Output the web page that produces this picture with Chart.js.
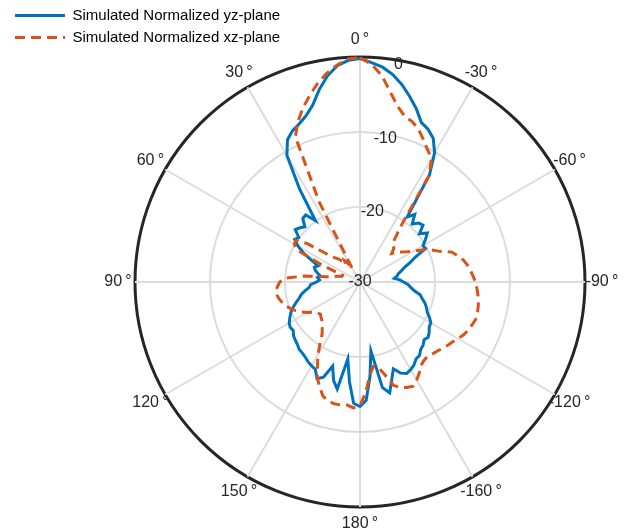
<!DOCTYPE html>
<html>
<head>
<meta charset="utf-8">
<script src="https://cdn.jsdelivr.net/npm/chart.js@4/dist/chart.umd.min.js"></script>
<style>
  html, body { margin: 0; padding: 0; background: #fff; overflow: hidden; }
  #chart { display: block; }
</style>
</head>
<body>
<canvas id="chart" width="632" height="532"></canvas>
<script>
// sample angles (deg) in the order the radial scale walks them: 0, -3, ... 180, ... 3
const angles = Array.from({ length: 120 }, (_, i) => (i <= 60 ? -3 * i : 360 - 3 * i));

// theta tick labels, one every 10 samples (30 deg), same order
const thetaTicks = ['0', '-30', '-60', '-90', '-120', '-160', '180', '150', '120', '90', '60', '30'];
const rTicks = [-30, -20, -10, 0];

// Simulated Normalized yz-plane (dB)
const yzPlane = [
  -0.2, -0.7, -1.2, -2.0, -3.1, -4.4, -5.7, -7.2, -7.7, -8.5,
  -10.1, -13.0, -19.3, -18.4, -19.6, -18.9, -18.7, -19.8, -18.9, -19.6,
  -20.3, -20.2, -22.0, -22.9, -23.8, -24.3, -24.8, -25.0, -25.4, -24.7,
  -24.2, -23.6, -23.2, -22.7, -21.8, -21.4, -20.9, -20.5, -20.2, -19.6,
  -19.1, -19.0, -18.6, -18.3, -18.5, -18.1, -17.9, -17.4, -17.3, -16.8,
  -16.5, -16.3, -16.7, -17.6, -16.3, -14.7, -15.6, -20.7, -17.3, -14.2,
  -13.4, -13.8, -16.6, -19.6, -15.4, -16.4, -18.2, -16.4, -15.9, -16.9,
  -17.1, -17.3, -17.6, -17.8, -17.9, -18.2, -18.4, -18.6, -19.0, -18.9,
  -19.1, -19.5, -19.9, -20.4, -21.0, -21.6, -22.0, -22.6, -23.2, -23.4,
  -24.2, -24.6, -24.3, -24.6, -24.2, -23.8, -23.6, -24.0, -23.0, -21.6,
  -20.5, -19.6, -19.9, -18.9, -19.2, -19.6, -18.6, -18.5, -19.9, -15.2,
  -10.5, -8.7, -7.9, -7.4, -6.7, -5.6, -3.8, -2.2, -1.0, -0.4
];

// Simulated Normalized xz-plane (dB)
const xzPlane = [
  -0.1, -0.9, -2.3, -4.3, -6.0, -7.1, -7.5, -8.2, -9.2, -10.2,
  -10.9, -13.1, -20.5, -22.7, -23.5, -23.6, -24.3, -23.6, -23.2, -22.6,
  -21.8, -20.5, -19.5, -18.6, -17.1, -16.5, -15.9, -15.5, -15.2, -14.9,
  -14.6, -14.4, -14.2, -14.0, -13.9, -13.8, -13.8, -14.0, -14.2, -14.5,
  -14.9, -15.3, -15.6, -15.9, -16.2, -16.4, -16.6, -16.5, -16.2, -15.5,
  -14.9, -14.4, -14.6, -14.9, -15.5, -17.2, -18.4, -18.6, -17.5, -15.3,
  -13.5, -13.2, -13.5, -13.4, -13.4, -13.6, -14.0, -15.0, -16.0, -17.5,
  -18.8, -20.2, -21.4, -22.0, -22.4, -22.8, -23.0, -23.2, -23.0, -22.6,
  -21.9, -21.2, -20.6, -20.1, -19.6, -19.3, -19.0, -18.8, -18.7, -19.0,
  -19.3, -20.0, -22.5, -25.5, -26.5, -27.0, -27.5, -27.5, -24.5, -20.5,
  -19.9, -19.8, -21.3, -23.6, -25.0, -25.5, -26.0, -27.0, -26.5, -27.0,
  -28.0, -18.0, -8.8, -7.0, -5.5, -4.2, -2.9, -1.8, -0.9, -0.2
];

const gridGrey = '#dcdcdc';
const textCol = '#262626';

// angle + radius labels drawn where the radial scale puts them
const polarLabels = {
  id: 'polarLabels',
  afterDraw(chart) {
    const r = chart.scales.r;
    const ctx = chart.ctx;
    ctx.save();
    ctx.font = '16px "Liberation Sans", Arial, sans-serif';
    ctx.fillStyle = textCol;
    ctx.textAlign = 'center';
    ctx.textBaseline = 'middle';
    thetaTicks.forEach((t, k) => {
      const p = r.getPointPosition(k * 10, r.drawingArea + 17);
      ctx.fillText(t + '\u2009°', p.x, p.y);
    });
    const a = -Math.PI / 2 + 10 * Math.PI / 180;
    rTicks.forEach(v => {
      const d = Math.max(0, r.getDistanceFromCenterForValue(v) - 4);
      ctx.fillText(String(v), r.xCenter + Math.cos(a) * d, r.yCenter + Math.sin(a) * d);
    });
    ctx.restore();
  }
};

// legend sits in the top-left corner of the figure, not inside the plot
const legendSpot = {
  id: 'legendSpot',
  afterLayout(chart) {
    chart.legend.left = 8;
    chart.legend.top = 1;
  }
};

new Chart(document.getElementById('chart'), {
  type: 'radar',
  data: {
    labels: angles,
    datasets: [
      {
        label: 'Simulated Normalized yz-plane',
        data: yzPlane,
        borderColor: '#0072BD',
        backgroundColor: '#0072BD',
        borderWidth: 3,
        fill: false,
        pointRadius: 0,
        order: 1
      },
      {
        label: 'Simulated Normalized xz-plane',
        data: xzPlane,
        borderColor: '#D95319',
        backgroundColor: '#D95319',
        borderWidth: 3,
        borderDash: [10, 6],
        fill: false,
        pointRadius: 0,
        order: 0
      }
    ]
  },
  options: {
    responsive: false,
    animation: false,
    layout: { padding: { left: 135, top: 57, right: 47, bottom: 25 } },
    elements: { line: { tension: 0 } },
    plugins: {
      tooltip: { enabled: false },
      legend: {
        position: 'chartArea',
        align: 'start',
        labels: {
          usePointStyle: true,
          pointStyle: 'line',
          pointStyleWidth: 50,
          padding: 7,
          color: '#000',
          font: { family: '"Liberation Sans", Arial, sans-serif', size: 15 },
          sort: (a, b) => a.datasetIndex - b.datasetIndex,
          generateLabels(chart) {
            const items = Chart.defaults.plugins.legend.labels.generateLabels(chart);
            items.forEach(it => {
              const ds = chart.data.datasets[it.datasetIndex];
              it.lineDash = ds.borderDash || [];
              it.lineWidth = ds.borderWidth;
              it.strokeStyle = ds.borderColor;
            });
            return items;
          }
        }
      }
    },
    scales: {
      r: {
        min: -30,
        max: 0,
        ticks: { display: false, stepSize: 10 },
        pointLabels: { display: false },
        grid: {
          circular: true,
          color: c => (c.tick && c.tick.value === 0 ? textCol : gridGrey),
          lineWidth: c => (c.tick && c.tick.value === 0 ? 3 : 2)
        },
        angleLines: {
          color: gridGrey,
          lineWidth: c => (c.index % 10 === 0 ? 2 : 0)
        }
      }
    }
  },
  plugins: [polarLabels, legendSpot]
});
</script>
</body>
</html>
